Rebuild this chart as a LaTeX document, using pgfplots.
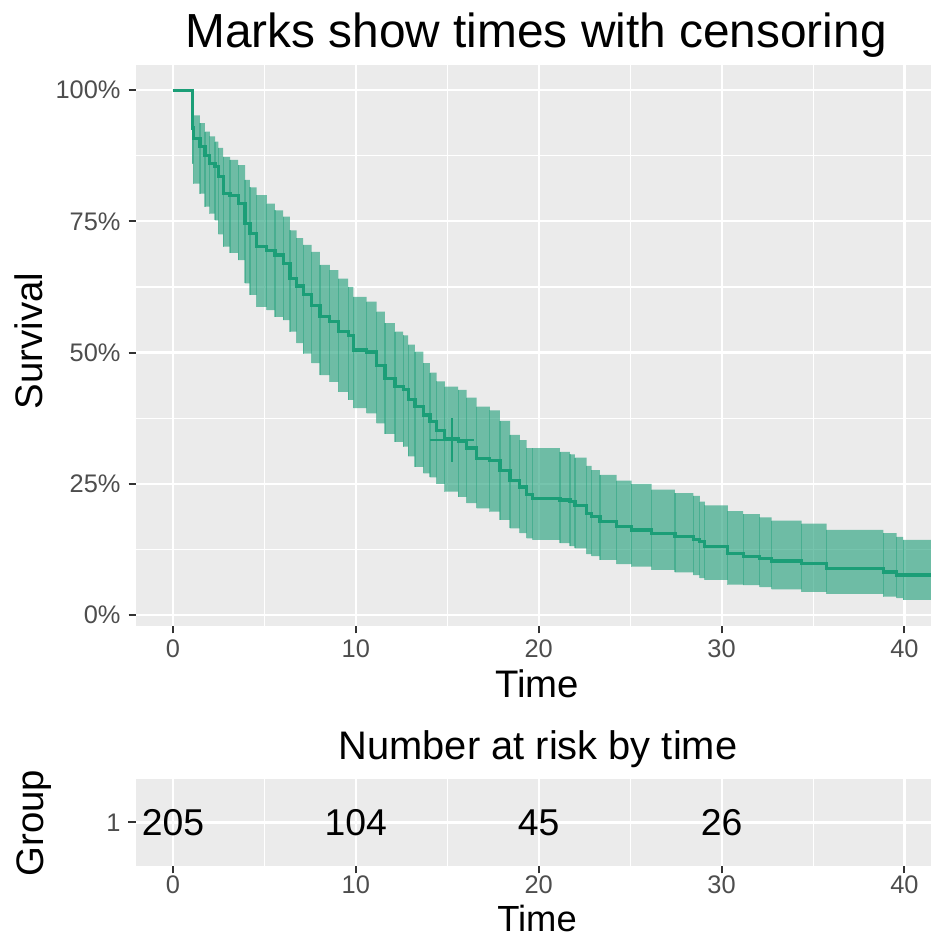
\documentclass[border=0pt]{standalone}
\usepackage{pgfplots}
\pgfplotsset{compat=1.18}
\usepackage{pgfplotstable}
\usepgfplotslibrary{fillbetween}
\usepackage{fontspec}
\setmainfont{Liberation Sans}
\definecolor{c1}{HTML}{1B9E77}
\definecolor{panel}{HTML}{EBEBEB}
\definecolor{ticklab}{HTML}{4D4D4D}
\definecolor{tickc}{HTML}{333333}
\newcommand{\ftick}{\fontsize{25.5}{30}\selectfont}
\newcommand{\flab}{\fontsize{38.5}{46}\selectfont}
\newcommand{\fnum}{\fontsize{37.5}{45}\selectfont}
\newcommand{\frisk}{\fontsize{40}{48}\selectfont}
\newcommand{\ftitle}{\fontsize{48}{58}\selectfont}

\pgfplotstableread{
t S up lo
0 1 1 1
1.055 0.928 0.962 0.860
1.12 0.908 0.952 0.822
1.476 0.892 0.937 0.803
1.75 0.876 0.921 0.778
2.02 0.861 0.912 0.765
2.30 0.854 0.902 0.752
2.48 0.835 0.890 0.725
2.75 0.803 0.873 0.702
3.12 0.800 0.867 0.690
3.57 0.784 0.857 0.676
3.94 0.746 0.829 0.632
4.21 0.727 0.815 0.610
4.58 0.702 0.800 0.587
5.13 0.694 0.784 0.581
5.58 0.686 0.771 0.568
6.03 0.670 0.759 0.562
6.40 0.641 0.733 0.540
6.76 0.627 0.718 0.518
7.12 0.610 0.705 0.498
7.58 0.590 0.692 0.480
8.04 0.568 0.667 0.457
8.58 0.559 0.657 0.444
9.04 0.540 0.641 0.425
9.58 0.533 0.625 0.410
9.86 0.505 0.606 0.394
10.59 0.501 0.597 0.384
11.14 0.476 0.578 0.365
11.59 0.451 0.556 0.345
12.14 0.435 0.540 0.330
12.59 0.429 0.533 0.321
12.86 0.410 0.515 0.302
13.23 0.397 0.502 0.282
13.69 0.381 0.480 0.270
14.05 0.368 0.462 0.262
14.42 0.352 0.445 0.250
14.87 0.337 0.435 0.235
15.60 0.330 0.429 0.225
16.06 0.318 0.414 0.213
16.60 0.298 0.397 0.203
17.33 0.295 0.390 0.197
17.88 0.276 0.370 0.181
18.43 0.257 0.343 0.165
18.97 0.244 0.333 0.156
19.34 0.229 0.318 0.146
19.68 0.222 0.318 0.143
21.16 0.219 0.311 0.137
21.71 0.216 0.306 0.131
21.98 0.208 0.300 0.127
22.62 0.194 0.284 0.116
22.89 0.187 0.276 0.112
23.35 0.178 0.267 0.105
24.26 0.168 0.256 0.097
25.08 0.162 0.250 0.092
26.17 0.156 0.239 0.086
27.45 0.150 0.232 0.081
28.45 0.144 0.227 0.076
28.81 0.140 0.216 0.070
29.08 0.130 0.209 0.067
30.34 0.117 0.198 0.058
31.18 0.112 0.192 0.057
32.09 0.108 0.186 0.053
32.73 0.103 0.180 0.049
34.37 0.098 0.174 0.044
35.74 0.089 0.162 0.040
38.84 0.082 0.156 0.035
39.57 0.076 0.149 0.032
39.93 0.076 0.143 0.029
41.6 0.076 0.143 0.029
}\survdata

\pgfplotsset{
  ggbase/.style={
    scale only axis, width=795bp,
    xmin=-2.02, xmax=41.45,
    axis background/.style={fill=panel},
    axis line style={draw=none},
    xtick={0,10,20,30,40}, minor xtick={5,15,25,35},
    xtick pos=left, ytick pos=left,
    tick align=outside, major tick length=7.5bp, minor tick length=0bp,
    tick style={tickc, line width=2bp},
    major grid style={white, line width=2.2bp},
    minor grid style={white, line width=1.1bp},
    tick label style={font=\ftick, text=ticklab},
    yticklabel style={inner sep=0pt, xshift=-7.8bp},
    /pgf/number format/assume math mode=true,
  }
}

\begin{document}
\begin{tikzpicture}

\begin{axis}[ggbase,
  at={(136bp,314bp)}, anchor=south west, height=561bp,
  ymin=-0.021, ymax=1.048,
  ytick={0,0.25,0.5,0.75,1}, yticklabels={0\%,25\%,50\%,75\%,100\%},
  minor ytick={0.125,0.375,0.625,0.875},
  grid=both,
  xticklabel style={inner sep=0pt, yshift=-6.5bp},
]
\addplot[const plot, draw=none, name path=U] table[x=t, y=up] {\survdata};
\addplot[const plot, draw=none, name path=L] table[x=t, y=lo] {\survdata};
\addplot[fill=c1, fill opacity=0.6, draw=none] fill between[of=U and L];
\addplot[quiver={u=0, v=\thisrow{up}-\thisrow{lo}}, c1, opacity=0.45, line width=1.2bp, restrict x to domain=0.5:41]
  table[x=t, y=lo] {\survdata};
\addplot[const plot, c1, line width=3.2bp] table[x=t, y=S] {\survdata};
\addplot[only marks, mark=+, mark size=22bp, c1, mark options={line width=2bp}] coordinates {(15.24,0.333)};
\end{axis}

\begin{axis}[ggbase,
  at={(136bp,74bp)}, anchor=south west, height=87bp,
  ymin=0.5, ymax=1.5, ytick={1}, yticklabels={1},
  grid=both, minor ytick={},
  xticklabel style={inner sep=0pt, yshift=-2.5bp},
]
\addplot[draw=none] coordinates {(0,1) (40,1)};
\node[font=\fnum, text=black] at (axis cs:0,1) {205};
\node[font=\fnum, text=black] at (axis cs:10,1) {104};
\node[font=\fnum, text=black] at (axis cs:20,1) {45};
\node[font=\fnum, text=black] at (axis cs:30,1) {26};
\end{axis}

\node[font=\ftitle, anchor=base, inner sep=0pt] at (536bp,892bp) {Marks show times with censoring};
\node[font=\flab, anchor=base, inner sep=0pt] at (537bp,242bp) {Time};
\node[font=\flab, anchor=base, inner sep=0pt, rotate=90] at (42bp,599bp) {Survival};
\node[font=\frisk, anchor=base, inner sep=0pt] at (538bp,180bp) {Number at risk by time};
\node[font=\fontsize{36.5}{44}\selectfont, anchor=base, inner sep=0pt] at (537bp,8.5bp) {Time};
\node[font=\flab, anchor=base, inner sep=0pt, rotate=90] at (43bp,117bp) {Group};

\pgfresetboundingbox
\useasboundingbox (0bp,0bp) rectangle (931bp,940bp);
\end{tikzpicture}
\end{document}
